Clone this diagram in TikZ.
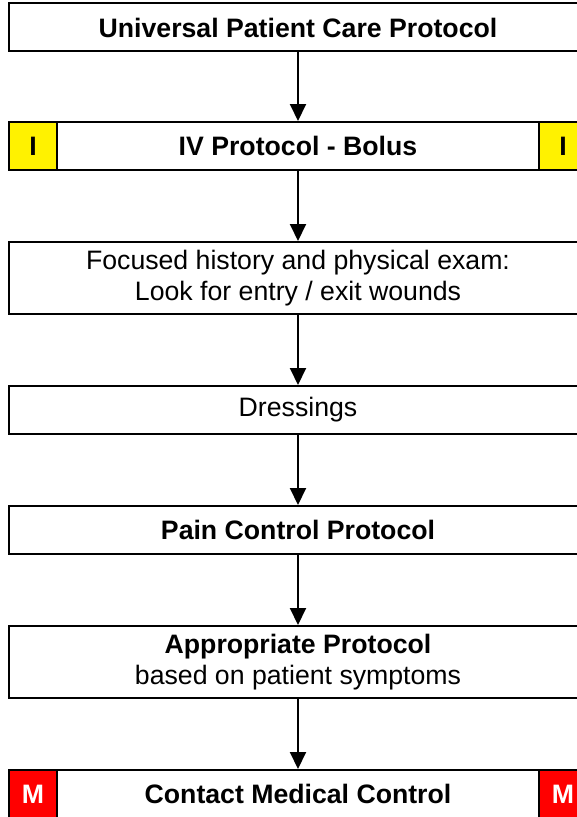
\documentclass[tikz,border=0pt]{standalone}
\usepackage{fontspec}
\setmainfont{Liberation Sans}
\usetikzlibrary{arrows.meta}
\begin{document}
\begin{tikzpicture}[x=0.75pt,y=-0.75pt,
    box/.style={draw,line width=1.5pt,fill=white,minimum width=433.5pt,
                minimum height=36pt,inner sep=0pt,align=center,
                font=\fontsize{20}{23}\selectfont},
    tall/.style={minimum height=54pt},
    tag/.style={draw,line width=1.5pt,minimum width=36pt,minimum height=36pt,
                inner sep=0pt,font=\fontsize{20}{23}\selectfont\bfseries},
    arr/.style={line width=1.5pt,-{Triangle[length=12.75pt,width=12pt]}}]
    \useasboundingbox (0,0) rectangle (577,817);
    % the boxes, top to bottom
    \node[box] (univ) at (298,27.5) {\textbf{Universal Patient Care Protocol}};
    \node[box] (iv) at (298,146) {\textbf{IV Protocol - Bolus}};
    \node[box,tall] (exam) at (298,278) {Focused history and physical exam:\\Look for entry / exit wounds};
    \node[box] (dress) at (298,410) {Dressings};
    \node[box] (pain) at (298,530) {\textbf{Pain Control Protocol}};
    \node[box,tall] (approp) at (298,662) {\textbf{Appropriate Protocol}\\based on patient symptoms};
    \node[box] (medctl) at (298,794) {\textbf{Contact Medical Control}};
    % side tags
    \node[tag,fill=yellow,anchor=west] (ivL) at (iv.west) {I};
    \node[tag,fill=yellow,anchor=east] (ivR) at (iv.east) {I};
    \node[tag,fill=red,text=white,anchor=west] (mcL) at (medctl.west) {M};
    \node[tag,fill=red,text=white,anchor=east] (mcR) at (medctl.east) {M};
    % connectors
    \foreach \a/\b in {univ/iv,iv/exam,exam/dress,dress/pain,pain/approp,approp/medctl}
    {
        \draw[arr] (\a) -- (\b);
    }
\end{tikzpicture}
\end{document}
